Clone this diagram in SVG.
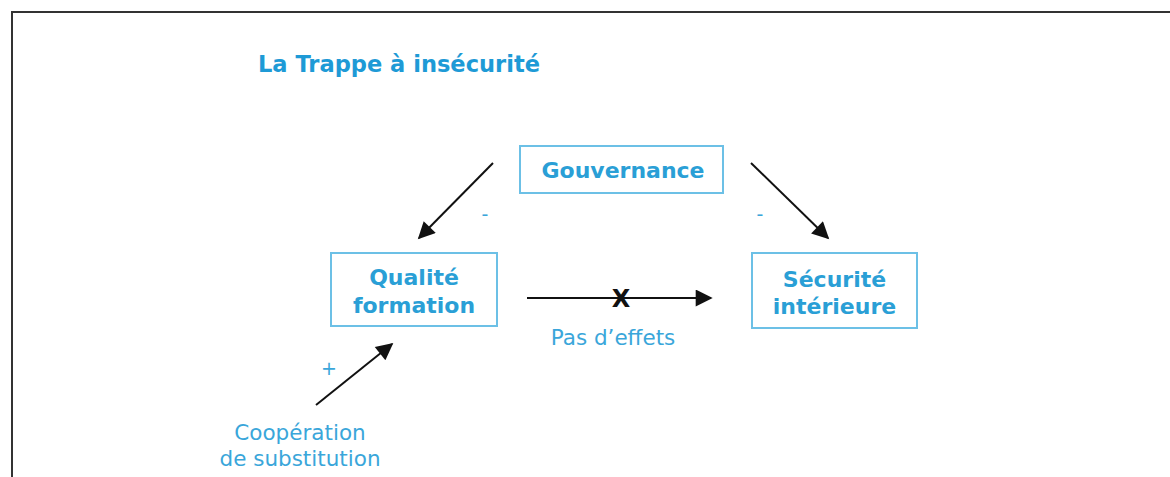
<svg xmlns="http://www.w3.org/2000/svg" width="1170" height="477" viewBox="0 0 1170 477">
<style>
.box{fill:#fff;stroke:#6cc0e6;stroke-width:2}
.lbl{font-family:"DejaVu Sans",Verdana,sans-serif;font-weight:bold;font-size:22px;fill:#2a9fd6;text-anchor:middle}
.note{font-family:"DejaVu Sans",Verdana,sans-serif;font-size:21.5px;fill:#3aa6da;text-anchor:middle}
.sign{font-family:"DejaVu Sans",sans-serif;font-size:19px;fill:#3aa6da;text-anchor:middle}
.edge{stroke:#111;stroke-width:2;fill:none;marker-end:url(#ah)}
</style>
<defs>
<marker id="ah" viewBox="0 0 10 10" refX="9" refY="5" markerWidth="20" markerHeight="17" markerUnits="userSpaceOnUse" orient="auto"><path d="M0,0 L10,5 L0,10 z" fill="#111"/></marker>
</defs>
<rect x="0" y="0" width="1170" height="477" fill="#fff"/>
<path d="M12,477 V12 H1170" stroke="#333" stroke-width="2" fill="none"/>
<text x="258" y="72" font-family="DejaVu Sans,sans-serif" font-weight="bold" font-size="23" fill="#1e9ad6" textLength="282" lengthAdjust="spacingAndGlyphs">La Trappe à insécurité</text>
<g id="gouvernance"><rect class="box" x="520" y="146" width="203" height="47"/><text class="lbl" x="623" y="178">Gouvernance</text></g>
<g id="qualite"><rect class="box" x="331" y="253" width="166" height="73"/><text class="lbl" x="414" y="285">Qualité</text><text class="lbl" x="414" y="313">formation</text></g>
<g id="securite"><rect class="box" x="752" y="253" width="165" height="75"/><text class="lbl" x="834.5" y="287">Sécurité</text><text class="lbl" x="834.5" y="314">intérieure</text></g>
<g id="cooperation"><text class="note" x="300" y="440">Coopération</text><text class="note" x="300" y="466">de substitution</text></g>
<g id="connectors">
<line class="edge" x1="493" y1="163" x2="419" y2="238"/>
<line class="edge" x1="751" y1="163" x2="828" y2="238"/>
<line class="edge" x1="527" y1="298" x2="711" y2="298"/>
<line class="edge" x1="316" y1="405" x2="392" y2="344"/>
<text class="sign" x="485" y="221">-</text>
<text class="sign" x="760" y="221">-</text>
<text class="sign" x="329" y="375">+</text>
<text x="621" y="307" font-family="DejaVu Sans,sans-serif" font-weight="bold" font-size="24" fill="#111" text-anchor="middle">X</text>
<text class="note" x="613" y="345">Pas d’effets</text>
</g>
</svg>
